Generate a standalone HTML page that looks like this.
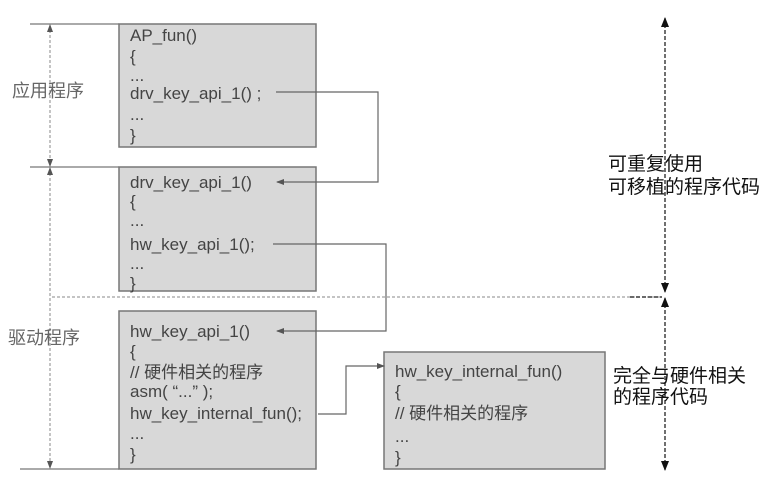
<!DOCTYPE html>
<html><head><meta charset="utf-8"><style>
html,body{margin:0;padding:0;background:#fff;width:769px;height:478px;overflow:hidden}
svg{display:block}
.c{font-family:"Liberation Sans","Noto Sans CJK SC",sans-serif;font-size:17px;fill:#444}
.l{font-family:"Liberation Sans","Noto Sans CJK SC",sans-serif;font-size:18px;fill:#666}
.r{font-family:"Liberation Sans","Noto Sans CJK SC",sans-serif;font-size:19px;fill:#111}
</style></head><body>
<svg width="769" height="478" viewBox="0 0 769 478" xmlns="http://www.w3.org/2000/svg">
<defs>
<marker id="a" markerWidth="8" markerHeight="8" refX="7" refY="4" orient="auto-start-reverse" markerUnits="userSpaceOnUse"><path d="M0,1 L8,4 L0,7Z" fill="#555"/></marker>
<marker id="k" markerWidth="10" markerHeight="10" refX="9" refY="5" orient="auto-start-reverse" markerUnits="userSpaceOnUse"><path d="M0,1 L10,5 L0,9Z" fill="#111"/></marker>
</defs>
<g fill="#d8d8d8" stroke="#777" stroke-width="1.5">
<rect x="119" y="24" width="197" height="123"/>
<rect x="119" y="167" width="197" height="124"/>
<rect x="119" y="311" width="197" height="158"/>
<rect x="384" y="352" width="221" height="117"/>
</g>
<g stroke="#777" stroke-width="1.2" fill="none">
<line x1="30" y1="24" x2="119" y2="24"/>
<line x1="30" y1="167" x2="119" y2="167"/>
<line x1="20" y1="469" x2="119" y2="469"/>
</g>
<g stroke="#888" stroke-width="1" stroke-dasharray="3,2" fill="none">
<line x1="50" y1="25" x2="50" y2="166" marker-start="url(#a)" marker-end="url(#a)"/>
<line x1="50" y1="168" x2="50" y2="468" marker-start="url(#a)" marker-end="url(#a)"/>
<line x1="52" y1="297" x2="662" y2="297"/>
</g>
<g stroke="#111" stroke-width="1.2" stroke-dasharray="4,2" fill="none">
<line x1="665" y1="18" x2="665" y2="292" marker-start="url(#k)" marker-end="url(#k)"/>
<line x1="665" y1="298" x2="665" y2="470" marker-start="url(#k)" marker-end="url(#k)"/>
<line x1="630" y1="297" x2="662" y2="297"/>
</g>
<g stroke="#666" stroke-width="1.2" fill="none">
<polyline points="276,92 378,92 378,182 277,182" marker-end="url(#a)"/>
<polyline points="273,244 386,244 386,331 277,331" marker-end="url(#a)"/>
<polyline points="318,414 346,414 346,366 384,366" marker-end="url(#a)"/>
</g>
<g class="c">
<text x="130" y="41">AP_fun()</text>
<text x="130" y="62">{</text>
<text x="130" y="81">...</text>
<text x="130" y="99">drv_key_api_1() ;</text>
<text x="130" y="120">...</text>
<text x="130" y="141">}</text>
<text x="130" y="188">drv_key_api_1()</text>
<text x="130" y="207">{</text>
<text x="130" y="226">...</text>
<text x="130" y="250">hw_key_api_1();</text>
<text x="130" y="269">...</text>
<text x="130" y="289">}</text>
<text x="130" y="337">hw_key_api_1()</text>
<text x="130" y="357">{</text>
<text x="130" y="378">// 硬件相关的程序</text>
<text x="130" y="397">asm( “...” );</text>
<text x="130" y="419">hw_key_internal_fun();</text>
<text x="130" y="439">...</text>
<text x="130" y="460">}</text>
<text x="395" y="377">hw_key_internal_fun()</text>
<text x="395" y="397">{</text>
<text x="395" y="419">// 硬件相关的程序</text>
<text x="395" y="442">...</text>
<text x="395" y="463">}</text>
</g>
<text class="l" x="12" y="97">应用程序</text>
<text class="l" x="8" y="344">驱动程序</text>
<text class="r" x="608" y="170">可重复使用</text>
<text class="r" x="608" y="193">可移植的程序代码</text>
<text class="r" x="613" y="382">完全与硬件相关</text>
<text class="r" x="613" y="403">的程序代码</text>
</svg>
</body></html>
